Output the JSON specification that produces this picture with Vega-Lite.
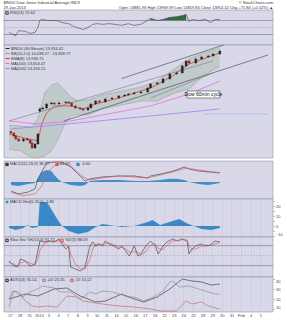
{
"$schema":"https://vega.github.io/schema/vega-lite/v6.json",
"padding":{"left":3,"top":0,"right":0,"bottom":0},
"background":"#ffffff",
"spacing":0,
"title":{"text":["$INDU Dow Jones Industrial Average INDX","29-Jan-2013"],"anchor":"start","fontSize":4,"lineHeight":4.5,"fontWeight":"normal","color":"#333","offset":-9},
"datasets":{
"px":[
{"t":0.1,"o":13060,"h":13070,"l":13035,"c":13044},{"t":0.4,"o":13044,"h":13050,"l":13000,"c":13009},{"t":0.6,"o":13009,"h":13015,"l":12965,"c":12974},{"t":0.9,"o":12974,"h":12985,"l":12940,"c":12950},{"t":1.4,"o":12950,"h":12985,"l":12940,"c":12974},{"t":1.8,"o":12974,"h":12985,"l":12950,"c":12962},{"t":2.1,"o":12962,"h":12970,"l":12915,"c":12927},{"t":2.3,"o":12927,"h":12935,"l":12860,"c":12868},{"t":2.6,"o":12868,"h":12925,"l":12860,"c":12915},{"t":2.9,"o":12915,"h":13040,"l":12905,"c":13032},{"t":3.1,"o":13300,"h":13345,"l":13290,"c":13325},{"t":3.4,"o":13325,"h":13350,"l":13315,"c":13336},{"t":3.8,"o":13336,"h":13395,"l":13330,"c":13383},{"t":4.3,"o":13383,"h":13410,"l":13375,"c":13395},{"t":4.6,"o":13395,"h":13405,"l":13372,"c":13383},{"t":5.1,"o":13383,"h":13408,"l":13375,"c":13395},{"t":5.8,"o":13395,"h":13418,"l":13388,"c":13406},{"t":6.1,"o":13406,"h":13415,"l":13385,"c":13395},{"t":6.4,"o":13395,"h":13400,"l":13350,"c":13360},{"t":6.8,"o":13360,"h":13368,"l":13325,"c":13336},{"t":7.3,"o":13336,"h":13345,"l":13312,"c":13325},{"t":7.6,"o":13325,"h":13333,"l":13300,"c":13313},{"t":8.1,"o":13313,"h":13345,"l":13305,"c":13336},{"t":8.4,"o":13336,"h":13392,"l":13330,"c":13383},{"t":8.9,"o":13383,"h":13428,"l":13375,"c":13418},{"t":9.3,"o":13418,"h":13428,"l":13398,"c":13406},{"t":9.9,"o":13406,"h":13450,"l":13400,"c":13442},{"t":10.6,"o":13442,"h":13463,"l":13435,"c":13453},{"t":11.3,"o":13453,"h":13486,"l":13447,"c":13477},{"t":11.9,"o":13477,"h":13498,"l":13470,"c":13488},{"t":12.3,"o":13488,"h":13510,"l":13482,"c":13500},{"t":12.9,"o":13500,"h":13522,"l":13494,"c":13512},{"t":13.6,"o":13512,"h":13533,"l":13505,"c":13524},{"t":14.3,"o":13524,"h":13580,"l":13518,"c":13570},{"t":14.6,"o":13570,"h":13627,"l":13563,"c":13617},{"t":15.3,"o":13617,"h":13640,"l":13608,"c":13629},{"t":15.9,"o":13629,"h":13685,"l":13622,"c":13676},{"t":16.6,"o":13676,"h":13744,"l":13668,"c":13734},{"t":17.3,"o":13734,"h":13758,"l":13726,"c":13746},{"t":17.9,"o":13746,"h":13838,"l":13740,"c":13828},{"t":18.3,"o":13828,"h":13896,"l":13820,"c":13886},{"t":18.6,"o":13886,"h":13894,"l":13852,"c":13863},{"t":19.3,"o":13863,"h":13920,"l":13855,"c":13910},{"t":19.9,"o":13910,"h":13942,"l":13902,"c":13933},{"t":20.6,"o":13933,"h":13955,"l":13925,"c":13945},{"t":21.1,"o":13945,"h":13976,"l":13938,"c":13968},{"t":21.8,"o":13968,"h":14012,"l":13960,"c":14003}
],
"ma":[
{"s":"ema","t":-0.1,"v":13032},{"s":"ema","t":1.5,"v":12985},{"s":"ema","t":2.9,"v":12950},{"s":"ema","t":3.3,"v":13149},{"s":"ema","t":3.8,"v":13278},{"s":"ema","t":4.6,"v":13360},{"s":"ema","t":6.3,"v":13360},{"s":"ema","t":7.6,"v":13325},{"s":"ema","t":8.9,"v":13383},{"s":"ema","t":11.3,"v":13453},{"s":"ema","t":14.6,"v":13570},{"s":"ema","t":16.9,"v":13711},{"s":"ema","t":18.6,"v":13851},{"s":"ema","t":21.8,"v":13980},
{"s":"ma100","t":-0.1,"v":13184},{"s":"ma100","t":2.9,"v":13149},{"s":"ma100","t":6.3,"v":13184},{"s":"ma100","t":9.6,"v":13254},{"s":"ma100","t":14.6,"v":13360},{"s":"ma100","t":18.6,"v":13500},{"s":"ma100","t":21.8,"v":13652},
{"s":"ma200","t":0.1,"v":13091},{"s":"ma200","t":7.1,"v":13161},{"s":"ma200","t":14.6,"v":13243},{"s":"ma200","t":21.8,"v":13325}
],
"bb":[
{"t":-0.1,"lo":12857,"up":13137},{"t":1.1,"lo":12833,"up":13126},{"t":2.3,"lo":12752,"up":13114},{"t":2.9,"lo":12752,"up":13208},{"t":3.6,"lo":12774,"up":13512},{"t":4.3,"lo":12833,"up":13605},{"t":4.9,"lo":12950,"up":13629},{"t":5.6,"lo":13126,"up":13559},{"t":6.3,"lo":13243,"up":13465},{"t":7.1,"lo":13266,"up":13418},{"t":8.1,"lo":13254,"up":13430},{"t":9.6,"lo":13325,"up":13488},{"t":11.6,"lo":13371,"up":13535},{"t":13.6,"lo":13418,"up":13582},{"t":15.3,"lo":13418,"up":13652},{"t":17.1,"lo":13512,"up":13793},{"t":18.6,"lo":13559,"up":13910},{"t":20.1,"lo":13711,"up":13980},{"t":21.8,"lo":13828,"up":14038}
],
"tl":[
{"t1":11.6,"p1":13681,"t2":24.1,"p2":14144,"k":"d"},{"t1":-0.1,"p1":13184,"t2":21.1,"p2":13886,"k":"g"},{"t1":5.6,"p1":13184,"t2":26.8,"p2":13956,"k":"d"},{"t1":14.6,"p1":13453,"t2":21.1,"p2":13746,"k":"g"}
],
"rsi":[
{"t":-0.1,"v":36},{"t":0.3,"v":30},{"t":0.6,"v":27},{"t":0.9,"v":41},{"t":1.6,"v":39},{"t":2.1,"v":33},{"t":2.6,"v":36},{"t":2.9,"v":50},{"t":3.1,"v":70},{"t":3.3,"v":73},{"t":3.9,"v":70},{"t":4.9,"v":70},{"t":5.4,"v":64},{"t":6.1,"v":61},{"t":6.6,"v":53},{"t":7.3,"v":47},{"t":7.6,"v":44},{"t":8.1,"v":50},{"t":8.6,"v":59},{"t":9.1,"v":61},{"t":9.6,"v":59},{"t":10.3,"v":61},{"t":10.9,"v":59},{"t":11.6,"v":56},{"t":12.3,"v":61},{"t":12.9,"v":56},{"t":13.6,"v":59},{"t":13.9,"v":64},{"t":14.6,"v":76},{"t":15.3,"v":70},{"t":15.9,"v":73},{"t":16.6,"v":79},{"t":17.3,"v":81},{"t":17.9,"v":84},{"t":18.3,"v":87},{"t":18.6,"v":67},{"t":18.9,"v":73},{"t":19.6,"v":70},{"t":20.3,"v":73},{"t":20.8,"v":64},{"t":21.3,"v":73},{"t":21.8,"v":73}
],
"macd":[
{"s":"m","t":0.1,"v":-38},{"s":"m","t":0.9,"v":-50},{"s":"m","t":1.9,"v":-42},{"s":"m","t":2.6,"v":-29},{"s":"m","t":2.9,"v":13},{"s":"m","t":3.3,"v":42},{"s":"m","t":3.8,"v":79},{"s":"m","t":4.6,"v":83},{"s":"m","t":5.4,"v":83},{"s":"m","t":6.3,"v":63},{"s":"m","t":7.3,"v":25},{"s":"m","t":7.8,"v":4},{"s":"m","t":8.3,"v":13},{"s":"m","t":9.6,"v":21},{"s":"m","t":11.3,"v":25},{"s":"m","t":12.9,"v":25},{"s":"m","t":14.3,"v":17},{"s":"m","t":14.6,"v":25},{"s":"m","t":15.6,"v":33},{"s":"m","t":16.6,"v":42},{"s":"m","t":17.3,"v":50},{"s":"m","t":18.1,"v":63},{"s":"m","t":18.6,"v":54},{"s":"m","t":19.6,"v":46},{"s":"m","t":20.6,"v":42},{"s":"m","t":21.8,"v":38},
{"s":"s","t":0.1,"v":-42},{"s":"s","t":1.3,"v":-58},{"s":"s","t":2.6,"v":-50},{"s":"s","t":3.3,"v":-17},{"s":"s","t":3.9,"v":42},{"s":"s","t":4.6,"v":67},{"s":"s","t":5.4,"v":79},{"s":"s","t":6.3,"v":67},{"s":"s","t":7.6,"v":21},{"s":"s","t":8.3,"v":8},{"s":"s","t":9.6,"v":17},{"s":"s","t":11.3,"v":25},{"s":"s","t":12.9,"v":21},{"s":"s","t":14.3,"v":17},{"s":"s","t":15.6,"v":29},{"s":"s","t":16.9,"v":42},{"s":"s","t":18.3,"v":58},{"s":"s","t":19.6,"v":50},{"s":"s","t":21.8,"v":38}
],
"h1":[
{"t":0.1,"v":-13},{"t":0.9,"v":-17},{"t":1.9,"v":-8},{"t":2.6,"v":-4},{"t":2.9,"v":13},{"t":3.3,"v":42},{"t":3.8,"v":50},{"t":4.3,"v":46},{"t":4.6,"v":29},{"t":5.1,"v":8},{"t":5.4,"v":0},{"t":6.3,"v":-13},{"t":7.3,"v":-17},{"t":7.8,"v":-13},{"t":8.3,"v":4},{"t":9.6,"v":8},{"t":11.3,"v":8},{"t":12.9,"v":4},{"t":14.3,"v":4},{"t":15.6,"v":8},{"t":16.6,"v":13},{"t":17.3,"v":13},{"t":18.1,"v":8},{"t":18.6,"v":0},{"t":19.6,"v":-8},{"t":20.6,"v":-13},{"t":21.8,"v":-4}
],
"h2":[
{"t":-0.1,"v":-2},{"t":0.6,"v":-4},{"t":1.4,"v":-2},{"t":1.8,"v":1},{"t":2.3,"v":-2},{"t":2.9,"v":-1},{"t":3.1,"v":24},{"t":3.8,"v":24},{"t":4.1,"v":20},{"t":4.9,"v":7},{"t":5.4,"v":0},{"t":6.1,"v":-5},{"t":7.1,"v":-8},{"t":8.1,"v":-6},{"t":8.9,"v":-1},{"t":9.6,"v":2},{"t":10.3,"v":1},{"t":11.6,"v":-1},{"t":12.9,"v":0},{"t":14.3,"v":4},{"t":14.8,"v":6},{"t":15.6,"v":1},{"t":16.9,"v":5},{"t":17.6,"v":7},{"t":18.3,"v":3},{"t":19.1,"v":0},{"t":19.9,"v":-3},{"t":20.9,"v":-4},{"t":21.8,"v":-2}
],
"sto":[
{"s":"k","t":-0.1,"v":34},{"s":"k","t":0.4,"v":19},{"s":"k","t":0.8,"v":16},{"s":"k","t":1.1,"v":40},{"s":"k","t":1.6,"v":34},{"s":"k","t":2.1,"v":19},{"s":"k","t":2.6,"v":25},{"s":"k","t":2.9,"v":64},{"s":"k","t":3.1,"v":94},{"s":"k","t":3.6,"v":91},{"s":"k","t":4.1,"v":94},{"s":"k","t":4.6,"v":91},{"s":"k","t":5.1,"v":100},{"s":"k","t":5.4,"v":85},{"s":"k","t":5.8,"v":70},{"s":"k","t":6.1,"v":79},{"s":"k","t":6.3,"v":16},{"s":"k","t":6.8,"v":10},{"s":"k","t":7.3,"v":4},{"s":"k","t":7.8,"v":16},{"s":"k","t":8.3,"v":79},{"s":"k","t":8.6,"v":91},{"s":"k","t":8.9,"v":79},{"s":"k","t":9.3,"v":85},{"s":"k","t":9.6,"v":79},{"s":"k","t":9.9,"v":94},{"s":"k","t":10.3,"v":85},{"s":"k","t":10.8,"v":79},{"s":"k","t":11.3,"v":70},{"s":"k","t":11.6,"v":79},{"s":"k","t":12.1,"v":61},{"s":"k","t":12.4,"v":49},{"s":"k","t":12.9,"v":79},{"s":"k","t":13.3,"v":49},{"s":"k","t":13.6,"v":55},{"s":"k","t":14.1,"v":79},{"s":"k","t":14.6,"v":94},{"s":"k","t":15.1,"v":79},{"s":"k","t":15.4,"v":55},{"s":"k","t":15.9,"v":79},{"s":"k","t":16.3,"v":91},{"s":"k","t":16.9,"v":100},{"s":"k","t":17.4,"v":94},{"s":"k","t":17.9,"v":100},{"s":"k","t":18.4,"v":94},{"s":"k","t":18.6,"v":55},{"s":"k","t":18.9,"v":70},{"s":"k","t":19.3,"v":79},{"s":"k","t":19.8,"v":85},{"s":"k","t":20.3,"v":79},{"s":"k","t":20.8,"v":82},{"s":"k","t":21.3,"v":94},{"s":"k","t":21.8,"v":91},
{"s":"d","t":-0.1,"v":30},{"s":"d","t":0.4,"v":25},{"s":"d","t":0.8,"v":20},{"s":"d","t":1.1,"v":28},{"s":"d","t":1.6,"v":33},{"s":"d","t":2.1,"v":28},{"s":"d","t":2.6,"v":22},{"s":"d","t":2.9,"v":40},{"s":"d","t":3.1,"v":65},{"s":"d","t":3.6,"v":88},{"s":"d","t":4.1,"v":92},{"s":"d","t":4.6,"v":92},{"s":"d","t":5.1,"v":95},{"s":"d","t":5.4,"v":92},{"s":"d","t":5.8,"v":82},{"s":"d","t":6.1,"v":78},{"s":"d","t":6.3,"v":55},{"s":"d","t":6.8,"v":25},{"s":"d","t":7.3,"v":10},{"s":"d","t":7.8,"v":10},{"s":"d","t":8.3,"v":40},{"s":"d","t":8.6,"v":70},{"s":"d","t":8.9,"v":85},{"s":"d","t":9.3,"v":85},{"s":"d","t":9.6,"v":82},{"s":"d","t":9.9,"v":86},{"s":"d","t":10.3,"v":88},{"s":"d","t":10.8,"v":83},{"s":"d","t":11.3,"v":76},{"s":"d","t":11.6,"v":75},{"s":"d","t":12.1,"v":70},{"s":"d","t":12.4,"v":60},{"s":"d","t":12.9,"v":62},{"s":"d","t":13.3,"v":60},{"s":"d","t":13.6,"v":52},{"s":"d","t":14.1,"v":62},{"s":"d","t":14.6,"v":82},{"s":"d","t":15.1,"v":86},{"s":"d","t":15.4,"v":72},{"s":"d","t":15.9,"v":68},{"s":"d","t":16.3,"v":82},{"s":"d","t":16.9,"v":94},{"s":"d","t":17.4,"v":96},{"s":"d","t":17.9,"v":98},{"s":"d","t":18.4,"v":97},{"s":"d","t":18.6,"v":80},{"s":"d","t":18.9,"v":70},{"s":"d","t":19.3,"v":70},{"s":"d","t":19.8,"v":78},{"s":"d","t":20.3,"v":82},{"s":"d","t":20.8,"v":80},{"s":"d","t":21.3,"v":85},{"s":"d","t":21.8,"v":90}
],
"adx":[
{"s":"a","t":-0.1,"v":20},{"s":"a","t":1.6,"v":25},{"s":"a","t":2.9,"v":23},{"s":"a","t":4.6,"v":30},{"s":"a","t":5.9,"v":31},{"s":"a","t":7.3,"v":23},{"s":"a","t":8.9,"v":17},{"s":"a","t":9.9,"v":18},{"s":"a","t":11.6,"v":25},{"s":"a","t":12.9,"v":20},{"s":"a","t":13.9,"v":17},{"s":"a","t":15.3,"v":22},{"s":"a","t":16.6,"v":30},{"s":"a","t":17.9,"v":40},{"s":"a","t":18.9,"v":38},{"s":"a","t":19.9,"v":37},{"s":"a","t":20.9,"v":34},{"s":"a","t":21.8,"v":35},
{"s":"p","t":-0.1,"v":12},{"s":"p","t":0.4,"v":28},{"s":"p","t":1.3,"v":22},{"s":"p","t":2.3,"v":28},{"s":"p","t":2.9,"v":30},{"s":"p","t":3.3,"v":33},{"s":"p","t":4.6,"v":31},{"s":"p","t":5.3,"v":27},{"s":"p","t":6.3,"v":27},{"s":"p","t":7.3,"v":20},{"s":"p","t":8.3,"v":27},{"s":"p","t":8.9,"v":25},{"s":"p","t":9.6,"v":28},{"s":"p","t":10.6,"v":27},{"s":"p","t":11.3,"v":25},{"s":"p","t":12.3,"v":22},{"s":"p","t":12.9,"v":22},{"s":"p","t":13.9,"v":18},{"s":"p","t":14.9,"v":22},{"s":"p","t":15.9,"v":28},{"s":"p","t":16.6,"v":37},{"s":"p","t":16.9,"v":38},{"s":"p","t":17.6,"v":32},{"s":"p","t":18.6,"v":33},{"s":"p","t":19.6,"v":30},{"s":"p","t":20.6,"v":27},{"s":"p","t":21.3,"v":25},{"s":"p","t":21.8,"v":25},
{"s":"n","t":-0.1,"v":20},{"s":"n","t":0.3,"v":28},{"s":"n","t":0.9,"v":27},{"s":"n","t":1.6,"v":18},{"s":"n","t":2.3,"v":13},{"s":"n","t":2.9,"v":12},{"s":"n","t":3.9,"v":13},{"s":"n","t":4.9,"v":12},{"s":"n","t":5.9,"v":23},{"s":"n","t":6.9,"v":22},{"s":"n","t":7.6,"v":18},{"s":"n","t":8.3,"v":17},{"s":"n","t":9.6,"v":15},{"s":"n","t":11.3,"v":13},{"s":"n","t":12.9,"v":12},{"s":"n","t":14.6,"v":10},{"s":"n","t":15.6,"v":8},{"s":"n","t":17.3,"v":8},{"s":"n","t":18.3,"v":18},{"s":"n","t":18.9,"v":15},{"s":"n","t":19.9,"v":17},{"s":"n","t":20.6,"v":13},{"s":"n","t":21.8,"v":10}
]
},
"vconcat":[
{
"spacing":0,"bounds":"flush",
"resolve":{"scale":{"x":"shared","y":"independent","color":"independent"},"legend":{"color":"independent"}},
"vconcat":[
{
"width":269,"height":35,
"title":{"text":["© StockCharts.com","Open 13881.93  High 13969.99  Low 13859.83  Close 13954.42  Chg +71.84 (+0.52%) ▲"],"anchor":"end","fontSize":4,"lineHeight":4.5,"fontWeight":"normal","color":"#333","offset":0.5},
"layer":[
{"data":{"name":"rsi"},"transform":[{"filter":"datum.t >= 14.3 && datum.t <= 18.4"}],"mark":{"type":"area","color":"#2f6a40"},
 "encoding":{"x":{"field":"t","type":"quantitative","scale":{"domain":[-0.1,26.8],"nice":false,"zero":false},"axis":{"values":[0,1,2,3,4,5,6,7,8,9,10,11,12,13,14,15,16,17,18,19,20,21,22,23,24,25,26],"labels":false,"ticks":false,"grid":true,"gridColor":"#c3c3d8","gridWidth":0.5,"title":null}},
 "y":{"field":"v","type":"quantitative","scale":{"domain":[0,100],"nice":false,"zero":false},"axis":{"orient":"right","values":[10,30,50,70,90],"title":null,"grid":false,"labelFlush":3}},"y2":{"datum":70}}},
{"data":{"name":"rsi"},"transform":[{"filter":"datum.t >= 0.2 && datum.t <= 0.7"}],"mark":{"type":"area","color":"#d01818"},
 "encoding":{"x":{"field":"t","type":"quantitative","scale":{"domain":[-0.1,26.8],"nice":false,"zero":false},"axis":null},
 "y":{"field":"v","type":"quantitative","scale":{"domain":[0,100],"nice":false,"zero":false},"axis":null},"y2":{"datum":30}}},
{"data":{"values":[{"r":70},{"r":30}]},"mark":{"type":"rule","color":"#6e6e84","strokeWidth":0.6},
 "encoding":{"y":{"field":"r","type":"quantitative","scale":{"domain":[0,100],"nice":false,"zero":false},"axis":null}}},
{"data":{"values":[{"r":50}]},"mark":{"type":"rule","color":"#8a8aa0","strokeWidth":0.5,"strokeDash":[1.5,1.5]},
 "encoding":{"y":{"field":"r","type":"quantitative","scale":{"domain":[0,100],"nice":false,"zero":false},"axis":null}}},
{"data":{"name":"rsi"},"mark":{"type":"line","strokeWidth":0.6},
 "encoding":{"x":{"field":"t","type":"quantitative","scale":{"domain":[-0.1,26.8],"nice":false,"zero":false},"axis":null},
 "y":{"field":"v","type":"quantitative","scale":{"domain":[0,100],"nice":false,"zero":false},"axis":null},
 "color":{"datum":"r","type":"nominal","scale":{"domain":["r"],"range":["#444444"]},"legend":{"title":null,"labelExpr":"'RSI(14) 72.62'","symbolType":"square"}}}}
]
},
{
"width":269,"height":113,
"layer":[
{"data":{"name":"bb"},"mark":{"type":"area","color":"#bcc8c6","opacity":0.85},
 "encoding":{"x":{"field":"t","type":"quantitative","scale":{"domain":[-0.1,26.8],"nice":false,"zero":false},"axis":{"values":[0,1,2,3,4,5,6,7,8,9,10,11,12,13,14,15,16,17,18,19,20,21,22,23,24,25,26],"labels":true,"labelExpr":"['27','28','31','2013','3','4','7','8','9','10','11','14','15','16','17','18','22','23','24','25','28','29','30','31','Feb','4','5'][datum.value]","labelOverlap":false,"labelFlush":false,"ticks":false,"grid":true,"gridColor":"#c3c3d8","gridWidth":0.5,"title":null,"labelPadding":1}},
 "y":{"field":"lo","type":"quantitative","scale":{"domain":[12751,14073],"nice":false,"zero":false},"axis":{"orient":"right","values":[12800,12850,12900,12950,13000,13050,13100,13150,13200,13250,13300,13350,13400,13450,13500,13550,13600,13650,13700,13750,13800,13850,13900,13950,14000,14050],"format":",","labelOverlap":false,"labelFontSize":3.6,"title":null,"grid":false,"labelFlush":3}},"y2":{"field":"up"}}},
{"data":{"name":"bb"},"mark":{"type":"line","color":"#8e9a9a","strokeWidth":0.5},
 "encoding":{"x":{"field":"t","type":"quantitative","scale":{"domain":[-0.1,26.8],"nice":false,"zero":false},"axis":null},
 "y":{"field":"up","type":"quantitative","scale":{"domain":[12751,14073],"nice":false,"zero":false},"axis":null}}},
{"data":{"name":"bb"},"mark":{"type":"line","color":"#8e9a9a","strokeWidth":0.5},
 "encoding":{"x":{"field":"t","type":"quantitative","scale":{"domain":[-0.1,26.8],"nice":false,"zero":false},"axis":null},
 "y":{"field":"lo","type":"quantitative","scale":{"domain":[12751,14073],"nice":false,"zero":false},"axis":null}}},
{"data":{"name":"tl"},"mark":{"type":"rule","strokeWidth":0.6,"clip":true},
 "encoding":{"x":{"field":"t1","type":"quantitative","scale":{"domain":[-0.1,26.8],"nice":false,"zero":false},"axis":null},"x2":{"field":"t2"},
 "y":{"field":"p1","type":"quantitative","scale":{"domain":[12751,14073],"nice":false,"zero":false},"axis":null},"y2":{"field":"p2"},
 "color":{"condition":{"test":"datum.k == 'd'","value":"#3c3c48"},"value":"#7a7a88"}}},
{"data":{"values":[{}]},"mark":{"type":"rule","color":"#8a8af0","strokeWidth":0.8,"strokeDash":[1,1]},
 "encoding":{"x":{"datum":20.1,"type":"quantitative","scale":{"domain":[-0.1,26.8],"nice":false,"zero":false}},"x2":{"datum":26.8},
 "y":{"datum":13266,"type":"quantitative","scale":{"domain":[12751,14073],"nice":false,"zero":false}}}},
{"data":{"name":"ma"},"mark":{"type":"line","strokeWidth":0.7},
 "encoding":{"x":{"field":"t","type":"quantitative","scale":{"domain":[-0.1,26.8],"nice":false,"zero":false},"axis":null},
 "y":{"field":"v","type":"quantitative","scale":{"domain":[12751,14073],"nice":false,"zero":false},"axis":null},
 "color":{"field":"s","type":"nominal","scale":{"domain":["px","bb","ema","ma100","ma200"],"range":["#222222","#8e9a9a","#e02828","#e860e0","#9a78f0"]},
  "legend":{"title":null,"symbolType":"stroke","symbolSize":16,"symbolStrokeWidth":1,"labelExpr":"{'px':'$INDU (60 Minute) 13,954.42','bb':'BB(20,2.0) 14,038.27 - 13,828.77','ema':'EMA(8) 13,936.75','ma100':'MA(100) 13,654.47','ma200':'MA(200) 13,333.15'}[datum.label]"}}}},
{"data":{"name":"px"},"mark":{"type":"rule","color":"#222","strokeWidth":0.5},
 "encoding":{"x":{"field":"t","type":"quantitative","scale":{"domain":[-0.1,26.8],"nice":false,"zero":false},"axis":null},
 "y":{"field":"l","type":"quantitative","scale":{"domain":[12751,14073],"nice":false,"zero":false},"axis":null},"y2":{"field":"h"}}},
{"data":{"name":"px"},"mark":{"type":"bar","size":2,"stroke":"#222","strokeWidth":0.3},
 "encoding":{"x":{"field":"t","type":"quantitative","scale":{"domain":[-0.1,26.8],"nice":false,"zero":false},"axis":null},
 "y":{"field":"o","type":"quantitative","scale":{"domain":[12751,14073],"nice":false,"zero":false},"axis":null},"y2":{"field":"c"},
 "color":{"condition":{"test":"datum.c < datum.o","value":"#d41c1c"},"value":"#222222"}}},
{"data":{"values":[{}]},"mark":{"type":"rect","fill":"#ffffff","stroke":"#222","strokeWidth":0.5},
 "encoding":{"x":{"datum":18.4,"type":"quantitative","scale":{"domain":[-0.1,26.8],"nice":false,"zero":false}},"x2":{"datum":21.8},
 "y":{"datum":13453,"type":"quantitative","scale":{"domain":[12751,14073],"nice":false,"zero":false}},"y2":{"datum":13535}}},
{"data":{"values":[{}]},"mark":{"type":"text","fontSize":5,"color":"#111"},
 "encoding":{"x":{"datum":20.1,"type":"quantitative","scale":{"domain":[-0.1,26.8],"nice":false,"zero":false}},
 "y":{"datum":13494,"type":"quantitative","scale":{"domain":[12751,14073],"nice":false,"zero":false}},"text":{"value":"Dow 60min cycle"}}}
]
}
]
},
{
"spacing":0,"bounds":"flush",
"resolve":{"scale":{"x":"shared","y":"independent","color":"independent"},"legend":{"color":"independent"}},
"vconcat":[
{
"width":269,"height":38,
"layer":[
{"data":{"name":"h1"},"mark":{"type":"area","opacity":0.95},
 "encoding":{"x":{"field":"t","type":"quantitative","scale":{"domain":[-0.1,26.8],"nice":false,"zero":false},"axis":{"values":[0,1,2,3,4,5,6,7,8,9,10,11,12,13,14,15,16,17,18,19,20,21,22,23,24,25,26],"labels":false,"ticks":false,"grid":true,"gridColor":"#c3c3d8","gridWidth":0.5,"title":null}},
 "y":{"field":"v","type":"quantitative","scale":{"domain":[-71,87.6],"nice":false,"zero":false},"axis":{"orient":"right","values":[-50,-25,0,25,50,75],"title":null,"grid":false,"labelFlush":3}},"y2":{"datum":0},
 "color":{"datum":"h","type":"nominal"}}},
{"data":{"name":"macd"},"mark":{"type":"line","strokeWidth":0.6},
 "encoding":{"x":{"field":"t","type":"quantitative","scale":{"domain":[-0.1,26.8],"nice":false,"zero":false},"axis":null},
 "y":{"field":"v","type":"quantitative","scale":{"domain":[-71,87.6],"nice":false,"zero":false},"axis":null},
 "color":{"field":"s","type":"nominal","scale":{"domain":["m","s","h"],"range":["#333333","#e05050","#3a88c6"]},"legend":{"title":null,"direction":"horizontal","symbolType":"square","labelExpr":"{'m':'MACD(12,26,9) 38.37,','s':'41.97,','h':'-3.60'}[datum.label]"}}}}
]
},
{
"width":269,"height":38,
"layer":[
{"data":{"name":"h2"},"mark":{"type":"area"},
 "encoding":{"x":{"field":"t","type":"quantitative","scale":{"domain":[-0.1,26.8],"nice":false,"zero":false},"axis":{"values":[0,1,2,3,4,5,6,7,8,9,10,11,12,13,14,15,16,17,18,19,20,21,22,23,24,25,26],"labels":false,"ticks":false,"grid":true,"gridColor":"#c3c3d8","gridWidth":0.5,"title":null}},
 "y":{"field":"v","type":"quantitative","scale":{"domain":[-11,27],"nice":false,"zero":false},"axis":{"orient":"right","values":[-10,-5,0,5,10,15,20,25],"title":null,"grid":false,"labelFlush":3}},"y2":{"datum":0},
 "color":{"datum":"h","type":"nominal","scale":{"domain":["h"],"range":["#3a88c6"]},"legend":{"title":null,"symbolType":"square","labelExpr":"'MACD-Hist(5,35,5) -1.86'"}}}}
]
},
{
"width":269,"height":40,
"layer":[
{"data":{"values":[{"r":80},{"r":20}]},"mark":{"type":"rule","color":"#6e6e84","strokeWidth":0.6},
 "encoding":{"y":{"field":"r","type":"quantitative","scale":{"domain":[-14,106],"nice":false,"zero":false},"axis":{"orient":"right","values":[20,50,80],"title":null,"grid":false,"labelFlush":3}}}},
{"data":{"values":[{"r":50}]},"mark":{"type":"rule","color":"#8a8aa0","strokeWidth":0.5,"strokeDash":[1.5,1.5]},
 "encoding":{"y":{"field":"r","type":"quantitative","scale":{"domain":[-14,106],"nice":false,"zero":false},"axis":null}}},
{"data":{"name":"sto"},"mark":{"type":"line","strokeWidth":0.6},
 "encoding":{"x":{"field":"t","type":"quantitative","scale":{"domain":[-0.1,26.8],"nice":false,"zero":false},"axis":{"values":[0,1,2,3,4,5,6,7,8,9,10,11,12,13,14,15,16,17,18,19,20,21,22,23,24,25,26],"labels":false,"ticks":false,"grid":true,"gridColor":"#c3c3d8","gridWidth":0.5,"title":null}},
 "y":{"field":"v","type":"quantitative","scale":{"domain":[-14,106],"nice":false,"zero":false},"axis":null},
 "color":{"field":"s","type":"nominal","scale":{"domain":["k","d"],"range":["#333333","#e05050"]},"legend":{"title":null,"direction":"horizontal","symbolType":"square","labelExpr":"{'k':'Slow Sto %K(14,3) 91.72,','d':'%D(3) 88.09'}[datum.label]"}}}}
]
},
{
"width":269,"height":35,
"layer":[
{"data":{"name":"adx"},"mark":{"type":"line","strokeWidth":0.6},
 "encoding":{"x":{"field":"t","type":"quantitative","scale":{"domain":[-0.1,26.8],"nice":false,"zero":false},"axis":{"values":[0,1,2,3,4,5,6,7,8,9,10,11,12,13,14,15,16,17,18,19,20,21,22,23,24,25,26],"labels":true,"labelExpr":"['27','28','31','2013','3','4','7','8','9','10','11','14','15','16','17','18','22','23','24','25','28','29','30','31','Feb','4','5'][datum.value]","labelOverlap":false,"labelFlush":false,"ticks":false,"grid":true,"gridColor":"#c3c3d8","gridWidth":0.5,"title":null,"labelPadding":1}},
 "y":{"field":"v","type":"quantitative","scale":{"domain":[7,42],"nice":false,"zero":false},"axis":{"orient":"right","values":[10,20,30,40],"title":null,"grid":false,"labelFlush":3}},
 "color":{"field":"s","type":"nominal","scale":{"domain":["a","p","n"],"range":["#2a2a2a","#808088","#c85858"]},"legend":{"title":null,"direction":"horizontal","symbolType":"square","labelExpr":"{'a':'ADX(14) 35.14,','p':'+DI 25.35,','n':'-DI 10.12'}[datum.label]"}}}}
]
}
]
}
],
"resolve":{"scale":{"x":"shared","y":"independent","color":"independent"},"legend":{"color":"independent"}},
"config":{
"font":"Liberation Sans",
"view":{"stroke":"#80809a","strokeWidth":0.5,"fill":"#d8d8e9"},
"axis":{"labelFontSize":4,"labelColor":"#444","tickSize":1.5,"tickColor":"#777","tickWidth":0.5,"domain":false,"labelPadding":1},
"legend":{"orient":"top-left","offset":1,"padding":0,"labelFontSize":4,"labelColor":"#333","symbolSize":6,"rowPadding":0,"columnPadding":2,"labelOffset":1,"labelLimit":260,"symbolStrokeWidth":1}
}
}
